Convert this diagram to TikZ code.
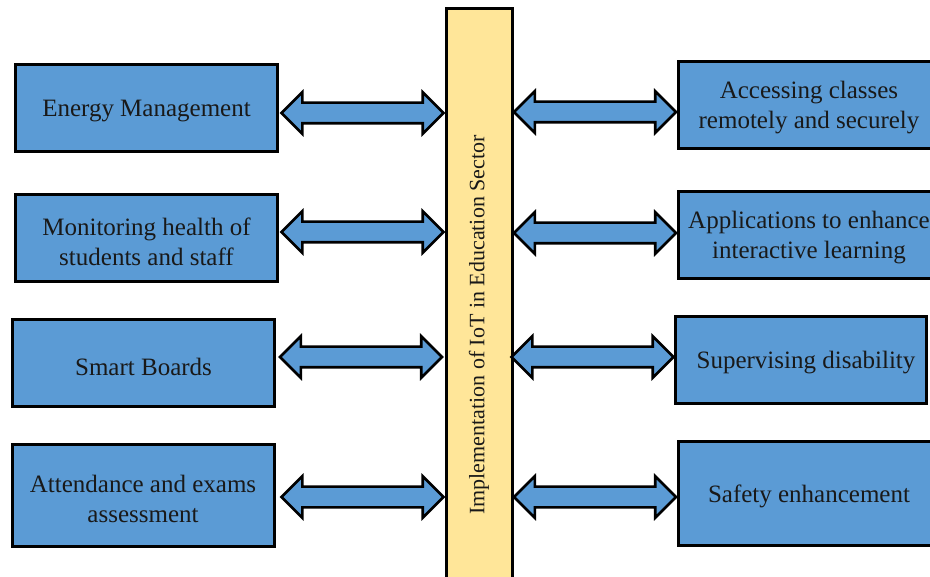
\documentclass[tikz,border=0pt]{standalone}
\usepackage{fontspec}
\setmainfont{Liberation Serif}
\usetikzlibrary{shapes.arrows}
\definecolor{boxblue}{HTML}{5B9BD5}
\definecolor{baryellow}{HTML}{FFE699}
\tikzset{
  infobox/.style={draw=black, line width=3pt, fill=boxblue, minimum width=262pt, minimum height=87pt},
  boxtext/.style={align=center, inner sep=0pt, font=\fontsize{25}{30}\selectfont, text=black!90, yshift=-3pt},
  darrow/.style={double arrow, draw=black, line width=2.6pt, fill=boxblue, inner sep=9pt,
    minimum height=162pt, minimum width=40pt, double arrow head extend=10.5pt},
  centralbar/.style={draw=black, line width=3pt, fill=baryellow, rotate=90, minimum width=632pt,
    minimum height=66pt, font=\fontsize{22}{26}\selectfont, text=black!90}
}
\begin{document}
\begin{tikzpicture}[x=1pt,y=-1pt]
\useasboundingbox (0,0) rectangle (930,577);
\node[centralbar] (bar) at (479,325) {Implementation of IoT in Education Sector};
% left boxes
\node[infobox, label={[boxtext]center:Energy Management}] (L1) at (146.5,108) {};
\node[infobox, label={[boxtext]center:Monitoring health of\\students and staff}] (L2) at (146.5,238.5) {};
\node[infobox, label={[boxtext]center:Smart Boards}] (L3) at (143.5,363.5) {};
\node[infobox, minimum height=102pt, label={[boxtext]center:Attendance and exams\\assessment}] (L4) at (143,495.5) {};
% right boxes
\node[infobox, label={[boxtext]center:Accessing classes\\remotely and securely}] (R1) at (809,105) {};
\node[infobox, label={[boxtext]center:Applications to enhance\\interactive learning}] (R2) at (809,235) {};
\node[infobox, minimum width=251pt, label={[boxtext, xshift=5pt]center:Supervising disability}] (R3) at (801,360) {};
\node[infobox, minimum height=104pt, label={[boxtext]center:Safety enhancement}] (R4) at (809,493.5) {};
% arrows
\node[darrow] (A1) at (362.5,113) {};
\node[darrow] (A2) at (362.5,232) {};
\node[darrow] (A3) at (361,357) {};
\node[darrow] (A4) at (362.5,497) {};
\node[darrow] (B1) at (595,112) {};
\node[darrow] (B2) at (595,233) {};
\node[darrow] (B3) at (592.5,357) {};
\node[darrow] (B4) at (595,497) {};
\end{tikzpicture}
\end{document}
